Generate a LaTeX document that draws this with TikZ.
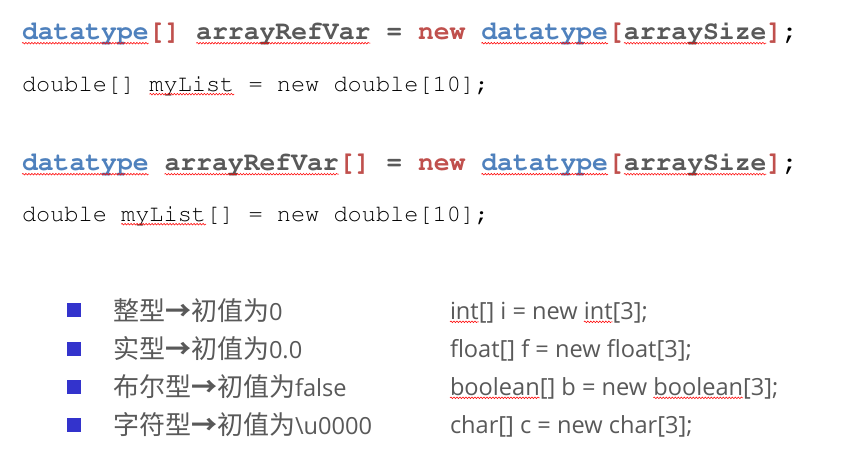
\documentclass[tikz,border=0pt]{standalone}
\usepackage{fontspec}
\usetikzlibrary{decorations.pathmorphing}
\newcommand{\courierfont}{\fontencoding{T1}\fontfamily{pcr}\selectfont}
\newfontfamily\cjkfont{Noto Sans CJK SC}
\newfontfamily\latfont{Open Sans}
\definecolor{dtblue}{HTML}{4F81BD}
\definecolor{kwred}{HTML}{C0504D}
\definecolor{txtgray}{HTML}{595959}
\definecolor{bulletblue}{HTML}{3333CC}
\definecolor{squig}{HTML}{FF0000}
\newcommand{\latsz}{\latfont\fontsize{23.6}{28}\selectfont}
\newcommand{\arr}{{\bfseries →}}
\begin{document}
\begin{tikzpicture}[x=1pt,y=-1pt,
  tok/.style={inner sep=0pt, outer sep=0pt, anchor=base west},
  codeA/.style={tok, font=\courierfont\fontseries{b}\fontsize{26.4}{30}\selectfont},
  codeB/.style={tok, font=\courierfont\fontsize{23.6}{28}\selectfont, text=black},
  bot/.style={tok, text=txtgray, font=\cjkfont\fontsize{26}{30}\selectfont},
  botlat/.style={tok, text=txtgray, font=\latsz},
  wave/.style={draw=squig, line width=0.55pt, decorate,
    decoration={snake, amplitude=0.8pt, segment length=3pt}},
  bullet/.style={fill=bulletblue, minimum size=14pt, inner sep=0pt, outer sep=0pt}
]
\useasboundingbox[fill=white] (0,0) rectangle (849,465);

% line 1
\node[codeA, text=dtblue] (a1) at (22,40) {datatype};
\node[codeA, text=kwred] (a2) at (a1.base east) {[]};
\node[codeA, text=txtgray] (a3) at ([xshift=15.84pt]a2.base east) {arrayRefVar};
\node[codeA, text=txtgray] (a4) at ([xshift=15.84pt]a3.base east) {=};
\node[codeA, text=kwred] (a5) at ([xshift=15.84pt]a4.base east) {new};
\node[codeA, text=dtblue] (a6) at ([xshift=15.84pt]a5.base east) {datatype};
\node[codeA, text=kwred] (a7) at (a6.base east) {[};
\node[codeA, text=txtgray] (a8) at (a7.base east) {arraySize};
\node[codeA, text=kwred] (a9) at (a8.base east) {]};
\node[codeA, text=black] (a10) at (a9.base east) {;};
\foreach \n in {a1,a3,a6,a8}
  \draw[wave] ([yshift=-3.2pt]\n.base west) -- ([yshift=-3.2pt]\n.base east);

% line 2
\node[codeB] (c1) at (22,91.7) {double[]};
\node[codeB] (c2) at ([xshift=14.16pt]c1.base east) {myList};
\node[codeB] (c3) at ([xshift=14.16pt]c2.base east) {= new double[10];};
\draw[wave] ([yshift=-2.5pt]c2.base west) -- ([yshift=-2.5pt]c2.base east);

% line 3
\node[codeA, text=dtblue] (b1) at (22,171) {datatype};
\node[codeA, text=txtgray] (b2) at ([xshift=15.84pt]b1.base east) {arrayRefVar};
\node[codeA, text=kwred] (b3) at (b2.base east) {[]};
\node[codeA, text=txtgray] (b4) at ([xshift=15.84pt]b3.base east) {=};
\node[codeA, text=kwred] (b5) at ([xshift=15.84pt]b4.base east) {new};
\node[codeA, text=dtblue] (b6) at ([xshift=15.84pt]b5.base east) {datatype};
\node[codeA, text=kwred] (b7) at (b6.base east) {[};
\node[codeA, text=txtgray] (b8) at (b7.base east) {arraySize};
\node[codeA, text=kwred] (b9) at (b8.base east) {]};
\node[codeA, text=black] (b10) at (b9.base east) {;};
\foreach \n in {b1,b2,b6,b8}
  \draw[wave] ([yshift=-3.2pt]\n.base west) -- ([yshift=-3.2pt]\n.base east);

% line 4
\node[codeB] (d1) at (22,221.7) {double};
\node[codeB] (d2) at ([xshift=14.16pt]d1.base east) {myList};
\node[codeB] (d3) at (d2.base east) {[] = new double[10];};
\draw[wave] ([yshift=-2.5pt]d2.base west) -- ([yshift=-2.5pt]d2.base east);

% bullets
\node[bullet] (p1) at (74,310) {};
\node[bullet] (p2) at (74,349) {};
\node[bullet] (p3) at (74,386.5) {};
\node[bullet] (p4) at (74,425) {};

% left column
\node[bot] (l1) at (113,320.5) {整型\arr 初值为{\latsz 0}};
\node[bot] (l2) at (113,358) {实型\arr 初值为{\latsz 0.0}};
\node[bot] (l3) at (113,396) {布尔型\arr 初值为{\latsz false}};
\node[bot] (l4) at (113,434) {字符型\arr 初值为{\latsz\textbackslash u0000}};

% right column
\node[botlat] (r1a) at (450,319.5) {int};
\node[botlat] (r1b) at (r1a.base east) {[] i = new\ \null};
\node[botlat] (r1c) at (r1b.base east) {int};
\node[botlat] (r1d) at (r1c.base east) {[3];};
\node[botlat] (r2) at (450,357.5) {float[] f = new float[3];};
\node[botlat] (r3a) at (450,395.5) {boolean};
\node[botlat] (r3b) at (r3a.base east) {[] b = new\ \null};
\node[botlat] (r3c) at (r3b.base east) {boolean};
\node[botlat] (r3d) at (r3c.base east) {[3];};
\node[botlat] (r4) at (450,433.5) {char[] c = new char[3];};
\foreach \n in {r1a,r1c,r3a,r3c}
  \draw[wave] ([yshift=-2.3pt]\n.base west) -- ([yshift=-2.3pt]\n.base east);
\end{tikzpicture}
\end{document}
